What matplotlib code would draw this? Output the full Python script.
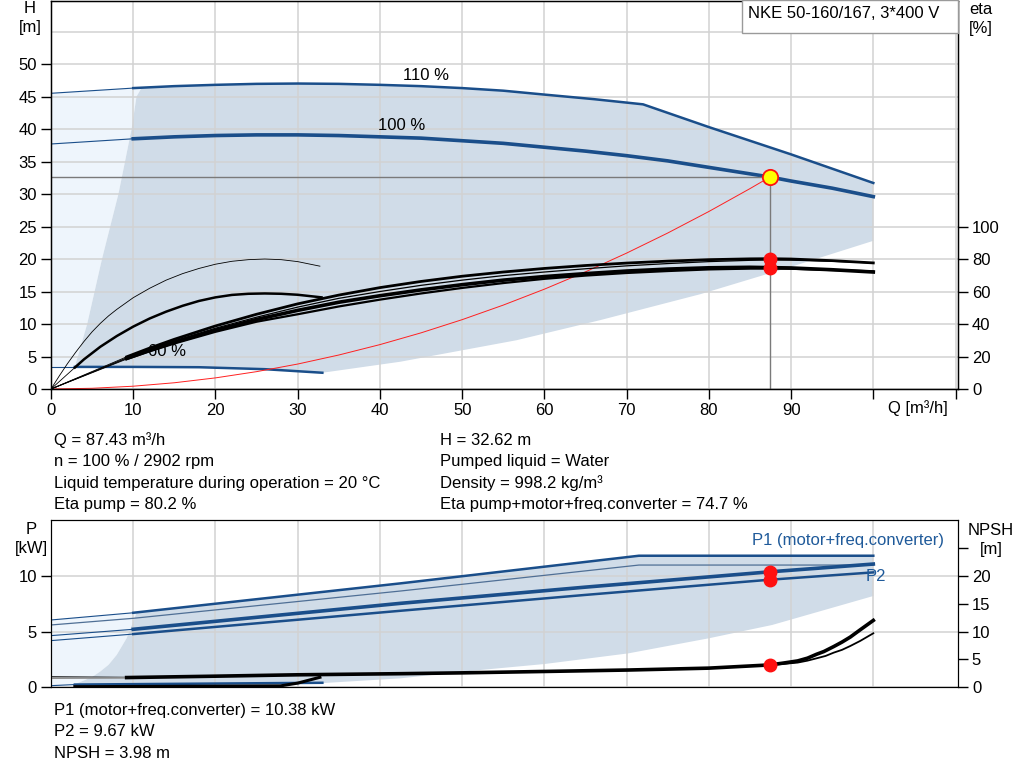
import matplotlib
matplotlib.use("Agg")
import matplotlib.pyplot as plt
from matplotlib.patches import Rectangle

plt.rcParams['font.family'] = ['Liberation Sans', 'DejaVu Sans']
plt.rcParams['font.size'] = 12

BLUE = '#1a4e8a'
FILL = '#d0dce8'
LIGHT = '#eef5fc'
GRID = '#d2d2d2'

# ---- head curves (Q in m3/h, H in m)
h110_q = [0, 10, 15, 20, 25, 30, 35, 40, 45, 50, 55, 60, 66, 72, 80, 90, 100]
h110 = [45.5, 46.3, 46.6, 46.8, 46.95, 47.0, 46.95, 46.8, 46.6, 46.3, 45.9, 45.3, 44.6, 43.8, 40.3, 36.1, 31.7]
h100_q = [0, 10, 15, 20, 25, 30, 35, 40, 45, 50, 55, 60, 65, 70, 75, 80, 87.43, 90, 95, 100]
h100 = [37.7, 38.5, 38.8, 39.0, 39.1, 39.1, 39.0, 38.8, 38.6, 38.2, 37.8, 37.2, 36.6, 35.9, 35.1, 34.1,
        32.62, 32.0, 30.9, 29.6]
h60_q = [0, 2.9, 10, 18, 26, 33]
h60 = [3.4, 3.4, 3.4, 3.35, 3.05, 2.5]

# operating range (upper chart)
rng_left_q = [2.9, 4.4, 6.2, 8.2, 9.8, 10.4, 11.0]
rng_left_h = [3.4, 10, 20, 30, 40, 45, 46.3]
rng_low_q = [33, 42.5, 56.6, 66.8, 79, 90, 100]
rng_low_h = [2.5, 4.2, 7.5, 10.6, 14.6, 18.8, 22.8]

# system curve
sys_q = [0, 5, 10, 15, 20, 25, 30, 35, 40, 45, 50, 55, 60, 65, 70, 75, 80, 85, 87.43]
sys_h = [0, 0.11, 0.43, 0.96, 1.71, 2.67, 3.84, 5.23, 6.83, 8.64, 10.67, 12.91, 15.36, 18.03, 20.91,
         24.0, 27.31, 30.83, 32.62]

# ---- efficiency curves (%)
eta_q = [0, 9.2, 12, 15, 20, 25, 30, 35, 40, 45, 50, 55, 60, 65, 70, 75, 80, 85, 87.43, 90, 95, 100]
eta_a = [0, 19.8, 25.2, 30.6, 38.8, 46.0, 52.4, 57.8, 62.4, 66.2, 69.4, 72.0, 74.2, 76.0, 77.5, 78.7,
         79.6, 80.1, 80.2, 80.0, 79.0, 77.6]
eta_b = [0, 19.2, 24.4, 29.6, 37.4, 44.2, 50.4, 55.8, 60.0, 63.8, 67.0, 69.8, 72.0, 74.0, 75.8, 77.2,
         78.4, 79.2, 79.4, 79.3, 78.6, 77.6]
eta_c = [0, 18.8, 23.8, 28.8, 36.2, 42.8, 48.4, 53.4, 57.4, 61.0, 64.2, 67.0, 69.2, 71.0, 72.6, 73.8,
         74.6, 74.9, 74.7, 74.5, 73.4, 72.0]
eta_d = [0, 18.4, 23.2, 28.0, 35.2, 41.4, 46.0, 50.8, 55.0, 58.8, 62.2, 65.2, 67.8, 69.8, 71.4, 72.6,
         73.6, 74.1, 74.2, 74.0, 73.2, 72.4]
eta60p_q = [0, 1, 2, 3, 4, 5, 6, 7, 8, 10, 12, 14, 16, 18, 20, 22, 24, 26, 28, 30, 32.7]
eta60p = [0, 8.0, 15.6, 22.6, 29.2, 35.2, 40.4, 45.0, 49.0, 56.2, 62.0, 67.0, 71.0, 74.2, 76.8, 78.6,
          79.6, 80.0, 79.6, 78.4, 75.6]
eta60t_q = [0, 2.9, 4, 6, 8, 10, 12, 14, 16, 18, 20, 22, 24, 26, 28, 30, 32.9]
eta60t = [0, 13.2, 18.2, 26.0, 32.6, 38.4, 43.4, 47.6, 51.2, 54.2, 56.4, 57.9, 58.6, 58.8, 58.6, 58.0, 56.4]

# ---- power curves (kW)
p1_110_q = [0, 10, 42.5, 71.5, 100]
p1_110 = [6.04, 6.69, 9.34, 11.83, 11.83]
p2_110_q = [0, 10, 42.5, 71.5, 100]
p2_110 = [5.59, 6.19, 8.65, 10.99, 10.99]
p1_100_q = [0, 10, 42.5, 65, 87.43, 100]
p1_100 = [4.63, 5.2, 7.54, 9.0, 10.38, 11.08]
p2_100_q = [0, 10, 42.5, 65, 87.43, 100]
p2_100 = [4.18, 4.77, 6.87, 8.3, 9.67, 10.33]
p60_q = [0, 2.9, 18, 33]
p60 = [0.12, 0.22, 0.3, 0.38]

# operating range (lower chart)
prng_left_q = [2.9, 5, 6, 7, 8, 9.2, 10, 10.4]
prng_left_p = [0.25, 0.9, 1.4, 2.0, 2.9, 4.4, 5.9, 6.69]
prng_low_q = [33, 42.5, 50, 60, 70.2, 80, 87.7, 100]
prng_low_p = [0.35, 0.78, 1.38, 2.07, 3.03, 4.39, 5.59, 8.2]

# ---- NPSH curves (m)
npsh_a_q = [9.2, 20, 30, 42.5, 50, 60, 70.2, 80, 87.43, 89, 90.8, 92, 93.1, 94, 95.2, 96.2, 97.2, 98.4, 100]
npsh_a = [1.7, 1.95, 2.2, 2.4, 2.55, 2.8, 3.06, 3.4, 3.98, 4.3, 4.7, 5.2, 5.9, 6.4, 7.3, 8.1, 9.0, 10.3, 12.0]
npsh_b_q = [87.43, 89, 90.8, 92, 93.1, 94.2, 95.2, 96.2, 97.2, 98.4, 100]
npsh_b = [3.98, 4.15, 4.4, 4.75, 5.17, 5.6, 6.2, 6.7, 7.39, 8.3, 9.68]
npsh60_q = [2.9, 15, 27.9, 30, 32.7]
npsh60 = [0.06, 0.12, 0.2, 0.7, 1.75]

# duty point
q_op, h_op = 87.43, 32.62
eta_pump, eta_tot = 80.2, 74.7
p1_op, p2_op, npsh_op = 10.38, 9.67, 3.98

fig = plt.figure(figsize=(10.24, 7.81), dpi=100)
W, H = 1024, 781


def axrect(l, t, r, b):
    return [l / W, (H - b) / H, (r - l) / W, (b - t) / H]


ax = fig.add_axes(axrect(51, 1, 958, 389))
ax2 = ax.twinx()

# fills
light_x = h110_q[:2] + [rng_left_q[-1]] + rng_left_q[::-1] + [0]
light_y = h110[:2] + [rng_left_h[-1]] + rng_left_h[::-1] + [h60[0]]
ax.fill(light_x, light_y, color=LIGHT, lw=0, zorder=0.2)
top_q = [q for q in h110_q if q > rng_left_q[-1]]
top_h = [h for q, h in zip(h110_q, h110) if q > rng_left_q[-1]]
mid_q = [q for q in h60_q if q > rng_left_q[0]]
mid_h = [h for q, h in zip(h60_q, h60) if q > rng_left_q[0]]
dark_x = rng_left_q + top_q + rng_low_q[::-1] + mid_q[::-1] + [rng_left_q[0]]
dark_y = rng_left_h + top_h + rng_low_h[::-1] + mid_h[::-1] + [rng_left_h[0]]
ax.fill(dark_x, dark_y, color=FILL, lw=0, zorder=0.2)

# head curves
ax.plot(h110_q[:2], h110[:2], color=BLUE, lw=0.8)
ax.plot(h110_q[1:], h110[1:], color=BLUE, lw=1.8)
ax.plot(h100_q[:2], h100[:2], color=BLUE, lw=0.8)
ax.plot(h100_q[1:], h100[1:], color=BLUE, lw=2.6)
ax.plot(h60_q[:2], h60[:2], color=BLUE, lw=0.8)
ax.plot(h60_q[1:], h60[1:], color=BLUE, lw=1.8)
ax.text(45.6, 48.3, '110 %', ha='center', va='center')
ax.text(42.6, 40.6, '100 %', ha='center', va='center')
ax.text(14.1, 5.7, '60 %', ha='center', va='center')

ax.plot(sys_q, sys_h, color='#ff2020', lw=0.7)
ax.plot([0, q_op], [h_op, h_op], color='#7a7a7a', lw=1)
ax.plot([q_op, q_op], [0, h_op], color='#7a7a7a', lw=1)

ax.set_xlim(0, 110.3)
ax.set_ylim(0, 59.7)
ax.set_xticks(range(0, 111, 10))
ax.set_xticklabels([str(v) if v <= 90 else '' for v in range(0, 111, 10)])
ax.set_yticks(range(0, 51, 5))
ax.set_yticks([55], minor=True)
ax.grid(which='both', color=GRID, lw=1.1)
ax.set_axisbelow(True)
ax.tick_params(which='major', direction='out', length=7, width=1, labelsize=12, pad=3)
ax.tick_params(which='minor', length=0)

# efficiency curves on the right axis
ax2.set_ylim(0, 59.7 * 4)
ax2.set_yticks(range(0, 101, 20))
ax2.tick_params(direction='out', length=7, width=1, labelsize=12, pad=3)
ax2.plot(eta60p_q, eta60p, color='black', lw=0.6)
ax2.plot(eta60t_q[:2], eta60t[:2], color='black', lw=0.6)
ax2.plot(eta60t_q[1:], eta60t[1:], color='black', lw=1.8)
for vals, lw in [(eta_a, 2.0), (eta_b, 0.9), (eta_c, 2.6), (eta_d, 1.6)]:
    ax2.plot(eta_q[:2], vals[:2], color='black', lw=0.6)
    ax2.plot(eta_q[1:], vals[1:], color='black', lw=lw)
ax2.plot([q_op, q_op], [eta_pump, eta_tot], 'o', color='#ff1010', ms=9, zorder=6)
ax2.plot([q_op], [h_op * 4], 'o', mfc='#ffff00', mec='#ff1010', mew=1.3, ms=11, zorder=7)
for s in ax.spines.values():
    s.set_linewidth(1)
ax2.add_patch(Rectangle(((742 - 51) / 907, (389 - 33) / 388), (958 - 742) / 907, 33 / 388,
                        transform=ax2.transAxes, facecolor='white', edgecolor='#9a9a9a',
                        lw=1, zorder=10, clip_on=False))
ax2.text((748 - 51) / 907, (389 - 14) / 388, 'NKE 50-160/167, 3*400 V', transform=ax2.transAxes,
         ha='left', va='center', zorder=11)

fig.text(30 / W, 1 - 18 / H, 'H\n[m]', ha='center', va='center', linespacing=1.3)
fig.text(981 / W, 1 - 19 / H, 'eta\n[%]', ha='center', va='center', linespacing=1.3)
fig.text(888 / W, 1 - 408 / H, 'Q [m³/h]', ha='left', va='center')

# ---- lower chart
bx = fig.add_axes(axrect(51, 520, 958, 687))
bx2 = bx.twinx()

plight_x = p1_110_q[:2] + [prng_left_q[-1]] + prng_left_q[::-1] + [0]
plight_y = p1_110[:2] + [prng_left_p[-1]] + prng_left_p[::-1] + [p60[0]]
bx.fill(plight_x, plight_y, color=LIGHT, lw=0, zorder=0.2)
ptop_q = [q for q in p1_110_q if q > prng_left_q[-1]]
ptop_p = [p for q, p in zip(p1_110_q, p1_110) if q > prng_left_q[-1]]
pmid_q = [q for q in p60_q if q > prng_left_q[0]]
pmid_p = [p for q, p in zip(p60_q, p60) if q > prng_left_q[0]]
pdark_x = prng_left_q + ptop_q + prng_low_q[::-1] + pmid_q[::-1] + [prng_left_q[0]]
pdark_y = prng_left_p + ptop_p + prng_low_p[::-1] + pmid_p[::-1] + [prng_left_p[0]]
bx.fill(pdark_x, pdark_y, color=FILL, lw=0, zorder=0.2)

bx.plot(p1_110_q[:2], p1_110[:2], color=BLUE, lw=0.8)
bx.plot(p1_110_q[1:], p1_110[1:], color=BLUE, lw=1.8)
bx.plot(p2_110_q, p2_110, color='#4f6f95', lw=0.9)
bx.plot(p1_100_q[:2], p1_100[:2], color=BLUE, lw=0.8)
bx.plot(p1_100_q[1:], p1_100[1:], color=BLUE, lw=2.6)
bx.plot(p2_100_q[:2], p2_100[:2], color=BLUE, lw=0.8)
bx.plot(p2_100_q[1:], p2_100[1:], color=BLUE, lw=1.8)
bx.plot(p60_q[:2], p60[:2], color=BLUE, lw=0.8)
bx.plot(p60_q[1:], p60[1:], color=BLUE, lw=1.8)
bx.plot([q_op, q_op], [p1_op, p2_op], 'o', color='#ff1010', ms=9, zorder=6)
bx.text(85.3, 13.24, 'P1 (motor+freq.converter)', color='#1f5a9a', ha='left', va='center')
bx.text(99.1, 10.0, 'P2', color='#1f5a9a', ha='left', va='center')

bx.set_xlim(0, 110.3)
bx.set_ylim(0, 15.05)
bx.set_xticks(range(10, 101, 10))
bx.set_yticks([0, 5, 10])
bx.grid(color=GRID, lw=1.1)
bx.set_axisbelow(True)
bx.tick_params(axis='x', length=0, labelbottom=False)
bx.tick_params(axis='y', direction='out', length=7, width=1, labelsize=12, pad=3)

bx2.set_ylim(0, 30.1)
bx2.set_yticks(range(0, 26, 5))
bx2.set_yticklabels([str(v) if v <= 20 else '' for v in range(0, 26, 5)])
bx2.tick_params(direction='out', length=7, width=1, labelsize=12, pad=3)
bx2.plot([0, 9.2], [1.85, 1.75], color='black', lw=0.7)
bx2.plot([0, 9.2], [1.6, 1.65], color='#8a8a8a', lw=1.2)
bx2.plot(npsh60_q, npsh60, color='black', lw=2.2)
bx2.plot(npsh_b_q, npsh_b, color='black', lw=1.3)
bx2.plot(npsh_a_q, npsh_a, color='black', lw=2.6)
bx2.plot([q_op], [npsh_op], 'o', color='#ff1010', ms=9, zorder=6)

fig.text(31 / W, 1 - 539 / H, 'P\n[kW]', ha='center', va='center', linespacing=1.3)
fig.text(991 / W, 1 - 540 / H, 'NPSH\n[m]', ha='center', va='center', linespacing=1.3)

# ---- duty point read-out
left_lines = ['Q = 87.43 m³/h', 'n = 100 % / 2902 rpm',
              'Liquid temperature during operation = 20 °C', 'Eta pump = 80.2 %']
right_lines = ['H = 32.62 m', 'Pumped liquid = Water', 'Density = 998.2 kg/m³',
               'Eta pump+motor+freq.converter = 74.7 %']
bottom_lines = ['P1 (motor+freq.converter) = 10.38 kW', 'P2 = 9.67 kW', 'NPSH = 3.98 m']
for i, t in enumerate(left_lines):
    fig.text(54 / W, 1 - (440.5 + 21.3 * i) / H, t, ha='left', va='center')
for i, t in enumerate(right_lines):
    fig.text(440 / W, 1 - (440.5 + 21.3 * i) / H, t, ha='left', va='center')
for i, t in enumerate(bottom_lines):
    fig.text(54 / W, 1 - (711 + 21 * i) / H, t, ha='left', va='center')

fig.savefig('out.png', dpi=100)
